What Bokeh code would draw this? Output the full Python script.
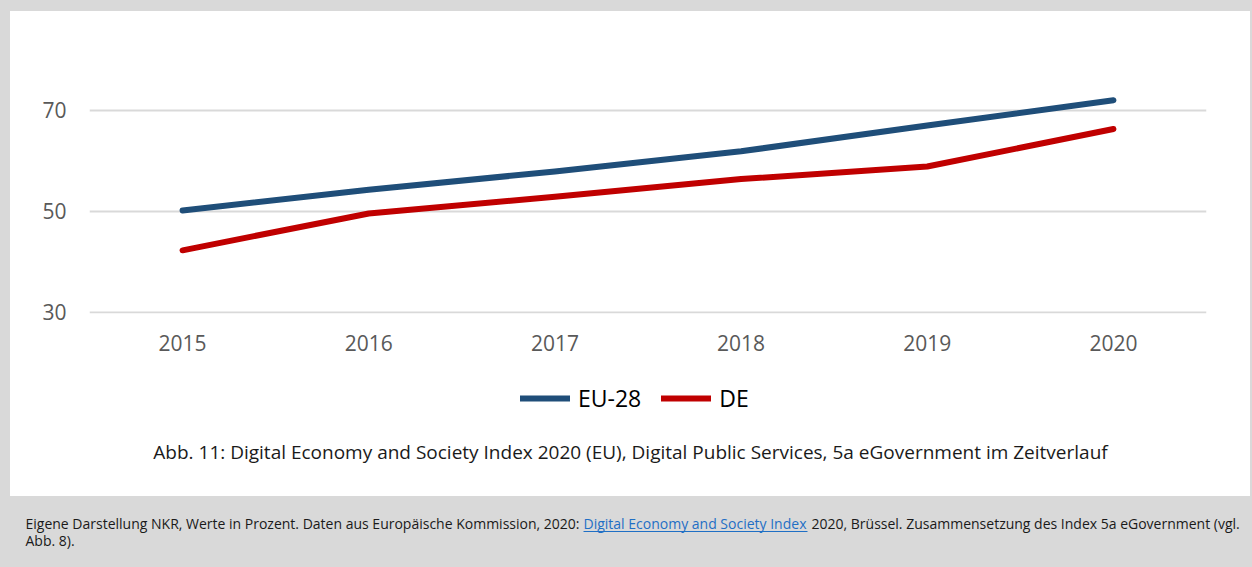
from bokeh.plotting import figure
from bokeh.models import FixedTicker, Label, Legend, LegendItem, Range1d, FactorRange
from bokeh.layouts import column
from bokeh.embed import file_html
from bokeh.resources import INLINE

# ---- data ----
years = ["2015", "2016", "2017", "2018", "2019", "2020"]
eu28 = [50.2, 54.3, 57.9, 61.9, 67.0, 72.0]
de = [42.3, 49.6, 52.9, 56.4, 58.9, 66.3]
y_ticks = [30, 50, 70]
series_names = ["EU-28", "DE"]
series_colors = ["#1f4e79", "#c00000"]
caption = ("Abb. 11: Digital Economy and Society Index 2020 (EU), Digital Public Services, "
           "5a eGovernment im Zeitverlauf")
footer_a = "Eigene Darstellung NKR, Werte in Prozent. Daten aus Europäische Kommission, 2020: "
footer_link = "Digital Economy and Society Index"
footer_b = "2020, Brüssel. Zusammensetzung des Index 5a eGovernment (vgl."
footer_c = "Abb. 8)."

FONT = "Open Sans"
GRAY = "#d9d9d9"
LW = 6
NAN = float("nan")

# ---- main chart ----
p = figure(width=1240, height=365, x_range=FactorRange(*years), y_range=Range1d(29.8, 85.8),
           output_backend="svg", toolbar_location=None,
           min_border_left=79, min_border_right=44, min_border_top=19, min_border_bottom=63,
           background_fill_color="white", border_fill_color="white")
p.outline_line_color = None
p.frame_align = False
p.styles = {"background-color": "white"}

for ax in (p.xaxis[0], p.yaxis[0]):
    ax.axis_line_color = None
    ax.major_tick_line_color = None
    ax.minor_tick_line_color = None
    ax.major_label_text_font = FONT
    ax.major_label_text_font_size = "21px"
    ax.major_label_text_color = "#595959"
p.xaxis.major_label_standoff = 15
p.yaxis.major_label_standoff = 17
p.yaxis.ticker = FixedTicker(ticks=y_ticks)
p.xgrid.grid_line_color = None
p.ygrid.grid_line_color = GRAY
p.ygrid.grid_line_width = 2

p.line(years, eu28, line_color=series_colors[0], line_width=LW,
       line_cap="round", line_join="round")
p.line(years, de, line_color=series_colors[1], line_width=LW,
       line_cap="round", line_join="round")

# ---- legend + caption panel (white) ----
g = figure(width=1240, height=120, x_range=Range1d(0, 1240), y_range=Range1d(120, 0),
           output_backend="svg", toolbar_location=None, min_border=0,
           min_border_left=0, min_border_right=0, min_border_top=0, min_border_bottom=0,
           background_fill_color="white", border_fill_color="white")
g.outline_line_color = None
g.frame_align = False
g.styles = {"background-color": "white"}
g.axis.visible = False
g.grid.visible = False

# legend proxies: no visible data, only used to draw the legend swatches
leg_r = [g.line(x=[NAN, NAN], y=[NAN, NAN], line_color=c, line_width=LW, line_cap="round")
         for c in series_colors]
legend = Legend(items=[LegendItem(label=n, renderers=[r]) for n, r in zip(series_names, leg_r)],
                orientation="horizontal", location=(510, 82), padding=0, margin=0,
                spacing=20, glyph_width=50, glyph_height=20, label_standoff=8,
                label_text_font=FONT, label_text_font_size="23px", label_text_color="#000000",
                border_line_color=None, background_fill_alpha=0)
g.add_layout(legend)

g.add_layout(Label(x=620, y=75, text=caption, text_align="center", text_baseline="alphabetic",
                   text_font=FONT, text_font_size="19px", text_color="#1a1a1a"))

inner = column(p, g, margin=(11, 2, 0, 10), styles={"background-color": "white"})

# ---- footer ----
f = figure(width=1252, height=71, x_range=Range1d(0, 1252), y_range=Range1d(71, 0),
           output_backend="svg", toolbar_location=None, min_border=0,
           min_border_left=0, min_border_right=0, min_border_top=0, min_border_bottom=0,
           background_fill_color=GRAY, border_fill_color=GRAY)
f.outline_line_color = None
f.frame_align = False
f.axis.visible = False
f.grid.visible = False

def flabel(x, y, t, color="#1a1a1a"):
    f.add_layout(Label(x=x, y=y, text=t, text_baseline="alphabetic", text_font=FONT,
                       text_font_size="14px", text_color=color))

flabel(25, 27, footer_a)
flabel(583, 27, footer_link, "#1f6fc5")
flabel(811, 27, footer_b)
flabel(25, 44, footer_c)
f.segment(x0=[583], y0=[35], x1=[807], y1=[35], line_color="#1f6fc5", line_width=1)

layout = column(inner, f, styles={"background-color": GRAY})
open("out.html", "w").write(file_html(layout, INLINE))
